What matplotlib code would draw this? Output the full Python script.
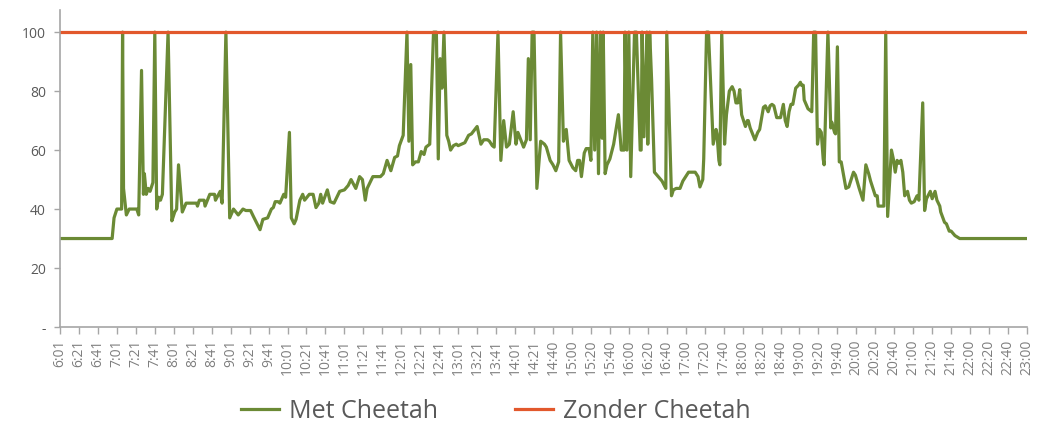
import matplotlib.pyplot as plt
import numpy as np

plt.rcParams['font.family'] = ['Open Sans', 'DejaVu Sans']

# # # # # # # # # # # # # # # #   D A T A   # # # # # # # # # # # # # # # #
# x-axis categories (one per minute, label every 20 categories)
tick_labels = ['6:01', '6:21', '6:41', '7:01', '7:21', '7:41', '8:01', '8:21', '8:41',
               '9:01', '9:21', '9:41', '10:01', '10:21', '10:41', '11:01', '11:21',
               '11:41', '12:01', '12:21', '12:41', '13:01', '13:21', '13:41', '14:01',
               '14:21', '14:40', '15:00', '15:20', '15:40', '16:00', '16:20', '16:40',
               '17:00', '17:20', '17:40', '18:00', '18:20', '18:40', '19:00', '19:20',
               '19:40', '20:00', '20:20', '20:40', '21:00', '21:20', '21:40', '22:00',
               '22:20', '22:40', '23:00']
n_categories = 1021

# "Met Cheetah": category index and value
met_idx = [0, 55, 57, 60, 65, 66, 67, 70, 73, 81, 83, 86, 88, 89, 91, 93, 95, 98, 100, 102,
           104, 106, 108, 114, 118, 121, 123, 125, 129, 133, 144, 145, 147, 152, 153, 158,
           163, 164, 169, 171, 175, 179, 183, 188, 193, 196, 201, 204, 211, 214, 219, 223,
           225, 227, 230, 232, 236, 238, 242, 244, 247, 249, 253, 256, 258, 263, 267, 270,
           273, 275, 277, 282, 285, 289, 295, 300, 304, 307, 312, 316, 319, 322, 324, 330,
           338, 341, 345, 349, 353, 356, 358, 362, 366, 368, 370, 372, 375, 378, 381, 384,
           386, 390, 394, 397, 399, 401, 403, 404, 405, 408, 410, 412, 415, 418, 420, 427,
           431, 434, 440, 444, 447, 451, 453, 456, 458, 462, 465, 468, 471, 474, 478, 481,
           483, 489, 492, 494, 496, 498, 500, 503, 507, 511, 513, 517, 520, 523, 526, 528,
           531, 534, 537, 541, 544, 546, 548, 550, 553, 555, 558, 560, 562, 564, 566, 568,
           570, 572, 573, 575, 577, 580, 584, 589, 592, 593, 595, 596, 598, 600, 602, 606,
           608, 612, 613, 614, 616, 619, 620, 622, 624, 627, 631, 635, 639, 640, 645, 647,
           650, 654, 657, 659, 663, 667, 670, 673, 675, 678, 679, 682, 684, 689, 692, 693,
           695, 696, 698, 701, 703, 706, 709, 711, 713, 715, 717, 719, 723, 725, 726, 728,
           733, 736, 738, 742, 744, 747, 749, 751, 753, 756, 760, 763, 765, 767, 769, 771,
           773, 776, 779, 781, 782, 784, 785, 789, 793, 795, 797, 799, 801, 803, 805, 806,
           810, 813, 814, 817, 818, 820, 822, 824, 829, 832, 834, 837, 839, 843, 847, 850,
           853, 855, 860, 862, 863, 867, 869, 871, 873, 877, 879, 881, 883, 885, 887, 889,
           891, 894, 896, 898, 901, 904, 906, 910, 912, 914, 918, 920, 923, 925, 928, 929,
           933, 935, 938, 940, 944, 949, 1020]
met_val = [30, 30, 37, 40, 40, 100, 47, 38, 40, 40, 38, 87, 45, 52, 45, 47, 46, 49, 100, 40,
           44, 43, 45, 100, 36, 39, 40, 55, 39, 42, 42, 41, 43, 43, 41, 45,
           45, 43, 46, 42, 100, 37, 40, 38, 40, 39.5, 39.5, 37.5, 33, 36.5, 37, 40,
           40.5, 42.5, 42.5, 42, 45, 44, 66, 37, 35, 36.5, 43, 45, 43, 45, 45, 40.5,
           42, 45, 42, 46.5, 42.5, 42, 46, 46.5, 48, 50, 47, 51, 50, 43, 47, 51,
           51, 52, 56.5, 53, 57.5, 58, 61.5, 65, 100, 63, 89, 55, 56, 56, 59.5, 58.5,
           61, 62, 100, 100, 57, 91, 81, 91, 100, 65, 63, 60, 61.5, 62, 61.5, 62.5,
           65, 65.5, 68, 62, 63.5, 63.5, 63, 61.5, 61, 100, 56.5, 70, 61, 62, 73, 62,
           66, 61, 63.5, 91, 63.5, 100, 100, 47, 63, 62, 61, 56.5, 55, 53, 56, 100,
           63, 67, 56.5, 54, 53, 56.5, 56.5, 51, 59, 60.5, 60.5, 56.5, 100, 60, 100, 52,
           100, 64, 100, 52, 55, 57, 62, 72, 60, 60, 60, 100, 60, 100, 51, 100,
           100, 60, 60, 100, 64.5, 100, 62, 100, 84, 52.5, 51, 49.5, 47, 100, 44.5, 46.5,
           47, 47, 49.5, 50.5, 52.5, 52.5, 52.5, 51, 47.5, 50, 57, 100, 100, 62, 67, 65.5,
           56.5, 55, 100, 62, 72, 80, 81.5, 80, 76, 76, 80.5, 72, 68, 70, 70, 67.5,
           63.5, 66, 67, 74.5, 75, 73, 75, 75.5, 75, 71, 71, 75.5, 70, 68, 73, 75.5,
           75.5, 81, 82, 83, 82, 82, 77, 74, 73, 100, 100, 62, 67, 66, 57, 55,
           100, 67.5, 69.5, 66, 65.5, 95, 56, 56, 47, 47.5, 49.5, 52.5, 51.5, 47, 43, 55,
           52, 49.5, 44.5, 44.5, 41, 41, 41, 100, 37.5, 60, 57, 52.5, 56.5, 55.5, 56.5, 52.5,
           44.5, 46, 43, 42, 42.5, 44.5, 43, 76, 39.5, 43.5, 46, 43.5, 46, 43, 41, 39,
           35.5, 35, 32.5, 32.5, 31, 30, 30]

# "Zonder Cheetah": constant over the whole day
zonder_idx = [0, 1020]
zonder_val = [100, 100]

y_ticks = [0, 20, 40, 60, 80, 100]
y_tick_labels = ['-', '20', '40', '60', '80', '100']

# # # # # # # # # # # # # # # #   P L O T   # # # # # # # # # # # # # # # #
GREEN = '#6b8a35'
ORANGE = '#e2582c'
AXIS_GREY = '#a6a6a6'
TEXT_GREY = '#7f7f7f'

fig = plt.figure(figsize=(10.37, 4.23), dpi=100)
ax = fig.add_axes([60 / 1037, 1 - 327 / 423, 967 / 1037, 317 / 423])

ax.plot(met_idx, met_val, color=GREEN, linewidth=2.3, label='Met Cheetah', solid_joinstyle='round')
ax.plot(zonder_idx, zonder_val, color=ORANGE, linewidth=2.3, label='Zonder Cheetah')

ax.set_xlim(0, n_categories - 1)
ax.set_ylim(0, 107.5)

ax.set_xticks(np.arange(0, n_categories, 20))
ax.set_xticklabels(tick_labels, rotation=90, fontsize=10, color=TEXT_GREY)
ax.set_yticks(y_ticks)
ax.set_yticklabels(y_tick_labels, fontsize=10, color='#595959')

ax.tick_params(axis='x', length=5, width=1, color=AXIS_GREY, pad=4)
ax.tick_params(axis='y', length=4, width=1, color=AXIS_GREY, pad=6)

for side in ['top', 'right']:
    ax.spines[side].set_visible(False)
for side in ['left', 'bottom']:
    ax.spines[side].set_color(AXIS_GREY)
    ax.spines[side].set_linewidth(1.2)

fig.legend(loc='center', bbox_to_anchor=(496 / 1037, 1 - 411 / 423), ncol=2, frameon=False,
           fontsize=18, handlelength=1.5, handletextpad=0.4, columnspacing=3.1,
           labelcolor='#595959')

fig.savefig('out.png', dpi=100)
